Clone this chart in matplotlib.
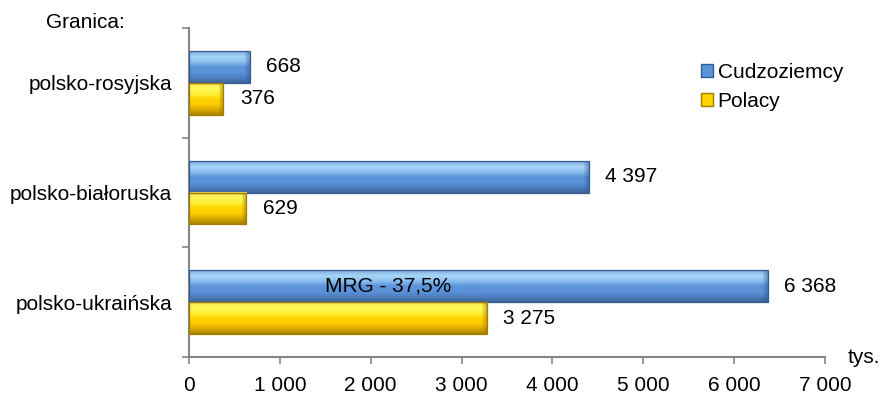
import matplotlib
matplotlib.use("Agg")
import matplotlib.pyplot as plt
import numpy as np
from matplotlib.colors import LinearSegmentedColormap
from matplotlib.patches import Patch, Rectangle

# ── data ──────────────────────────────────────────────────────────────
borders = ["polsko-ukraińska", "polsko-białoruska", "polsko-rosyjska"]
foreigners = [6368, 4397, 668]   # Cudzoziemcy
poles = [3275, 629, 376]         # Polacy
series_names = ["Cudzoziemcy", "Polacy"]
x_ticks = [0, 1000, 2000, 3000, 4000, 5000, 6000, 7000]
note_text = "MRG - 37,5%"

# ── style ─────────────────────────────────────────────────────────────
plt.rcParams["font.family"] = ["Liberation Sans", "DejaVu Sans"]
FS = 15
AXIS_GREY = "#868686"
BLUE = ["#7ea8dc", "#a6d6f7", "#8cc0ef", "#5b93d9", "#5b93d9", "#4f80c2", "#3d6799"]
YELLOW = ["#ffe64a", "#fff85a", "#ffef3a", "#ffd400", "#ffcc00", "#dcaa00", "#a98400"]
BLUE_EDGE = "#345c91"
YELLOW_EDGE = "#a07c00"
BAR_H = 0.29


def _bevel_bar(ax, y_bottom, width, height, colors, edge):
    """Horizontal bar with a vertical gradient and a dark right bevel."""
    cmap = LinearSegmentedColormap.from_list("bev", colors)
    grad = np.linspace(0, 1, 64).reshape(-1, 1)
    ax.imshow(grad, cmap=cmap, aspect="auto", origin="upper",
              extent=(0, width, y_bottom, y_bottom + height),
              interpolation="bilinear", zorder=2)
    # right bevel, a few px wide, fading in towards the edge
    bevel = 50
    steps = 5
    for i in range(steps):
        x0 = width - bevel * (steps - i) / steps
        ax.add_patch(Rectangle((max(x0, 0), y_bottom), width - max(x0, 0),
                               height, facecolor=edge, alpha=0.12, lw=0,
                               zorder=3))
    ax.add_patch(Rectangle((0, y_bottom), width, height, facecolor="none",
                           edgecolor=edge, lw=0.9, zorder=4))


fig = plt.figure(figsize=(8.82, 4.01), dpi=100)
ax = fig.add_axes([0.2143, 0.1097, 0.7211, 0.8205])

ypos = np.arange(len(borders))
for y, fval, pval in zip(ypos, foreigners, poles):
    _bevel_bar(ax, y, fval, BAR_H, BLUE, BLUE_EDGE)
    _bevel_bar(ax, y - BAR_H, pval, BAR_H, YELLOW, YELLOW_EDGE)
    for val, yc in ((fval, y + BAR_H / 2), (pval, y - BAR_H / 2)):
        ax.annotate(f"{val:,}".replace(",", " "), (val, yc),
                    xytext=(12, 0), textcoords="offset points",
                    ha="left", va="center", fontsize=FS)

ax.text(2190, ypos[0] + BAR_H / 2, note_text, ha="center", va="center",
        fontsize=FS, zorder=5)

ax.set_xlim(0, 7000)
ax.set_ylim(-0.5, len(borders) - 0.5)

ax.set_xticks(x_ticks)
ax.set_xticklabels([f"{v:,}".replace(",", " ") for v in x_ticks], fontsize=FS)
ax.tick_params(axis="x", direction="out", length=5, width=1.2,
               color=AXIS_GREY, pad=9)

ax.set_yticks(ypos)
ax.set_yticklabels(borders, fontsize=FS)
ax.set_yticks(np.arange(-0.5, len(borders)), minor=True)
ax.tick_params(axis="y", which="major", length=0, pad=12)
ax.tick_params(axis="y", which="minor", direction="out", length=5,
               width=1.2, color=AXIS_GREY)

for side in ("top", "right"):
    ax.spines[side].set_visible(False)
for side in ("left", "bottom"):
    ax.spines[side].set_color(AXIS_GREY)
    ax.spines[side].set_linewidth(1.5)

ax.text(1.035, 0, "tys.", transform=ax.transAxes, ha="left", va="center",
        fontsize=FS)
fig.text(0.097, 0.945, "Granica:", ha="center", va="center", fontsize=FS)

handles = [Patch(facecolor=BLUE[3], edgecolor=BLUE_EDGE),
           Patch(facecolor=YELLOW[3], edgecolor=YELLOW_EDGE)]
ax.legend(handles, series_names, loc="upper left",
          bbox_to_anchor=(0.792, 0.92), frameon=False, fontsize=FS,
          handlelength=0.55, handleheight=0.55, handletextpad=0.25,
          labelspacing=0.5, borderaxespad=0)

fig.savefig("out.png", dpi=100)
